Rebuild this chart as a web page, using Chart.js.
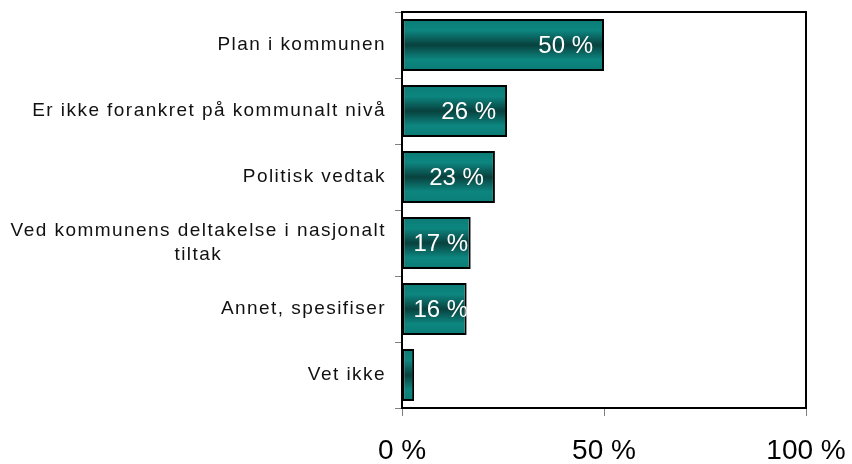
<!DOCTYPE html>
<html>
  <head>
    <meta charset="utf-8" />
    <script src="https://cdn.jsdelivr.net/npm/chart.js"></script>
    <style>
      html, body { margin: 0; padding: 0; background: #fff; }
      #wrap { width: 852px; height: 464px; }
    </style>
  </head>
  <body>
    <div id="wrap"><canvas id="barChart" width="852" height="464"></canvas></div>
    <script>
      const categories = [
        "Plan i kommunen",
        "Er ikke forankret på kommunalt nivå",
        "Politisk vedtak",
        ["Ved kommunens deltakelse i nasjonalt", "tiltak"],
        "Annet, spesifiser",
        "Vet ikke",
      ];
      const shares = [50, 26, 23, 17, 16, 3];
      const xTicks = [0, 50, 100];

      const barPct = 0.79;

      // teal gradient per bar: light at the edges, dark in the middle
      const barFill = (context) => {
        const chart = context.chart;
        const yScale = chart.scales.y;
        if (!yScale || context.dataIndex === undefined) return "#00706c";
        const center = yScale.getPixelForValue(context.dataIndex);
        const half = (yScale.height / categories.length) * barPct / 2;
        if (!isFinite(center) || !isFinite(half) || half <= 0) return "#00706c";
        const g = chart.ctx.createLinearGradient(0, center - half, 0, center + half);
        g.addColorStop(0, "#0b7b75");
        g.addColorStop(0.22, "#0d8680");
        g.addColorStop(0.5, "#08413e");
        g.addColorStop(0.78, "#0d8680");
        g.addColorStop(1, "#0b7b75");
        return g;
      };

      const framePlugin = {
        id: "frame",
        afterDatasetsDraw(chart) {
          const { ctx, chartArea: a } = chart;
          ctx.save();
          ctx.strokeStyle = "#000";
          ctx.lineWidth = 2;
          ctx.strokeRect(a.left, a.top, a.right - a.left, a.bottom - a.top);
          ctx.restore();
        },
      };

      const valueLabels = {
        id: "valueLabels",
        afterDatasetsDraw(chart) {
          const { ctx } = chart;
          const meta = chart.getDatasetMeta(0);
          ctx.save();
          ctx.font = "24px Arial, 'Liberation Sans', sans-serif";
          ctx.fillStyle = "#fff";
          ctx.textAlign = "left";
          ctx.textBaseline = "middle";
          meta.data.forEach((bar, i) => {
            const p = bar.getProps(["x", "y", "base", "height"], true);
            const text = shares[i] + " %";
            const w = ctx.measureText(text).width;
            const left = Math.max(p.x - 11 - w, p.base + 11);
            ctx.save();
            ctx.beginPath();
            ctx.rect(p.base, p.y - p.height / 2, p.x - p.base, p.height);
            ctx.clip();
            ctx.fillText(text, left, p.y + 1);
            ctx.restore();
          });
          ctx.restore();
        },
      };

      const categoryLabels = {
        id: "categoryLabels",
        afterDraw(chart) {
          const { ctx } = chart;
          const yScale = chart.scales.y;
          ctx.save();
          ctx.font = "19px Arial, 'Liberation Sans', sans-serif";
          ctx.letterSpacing = "1.45px";
          ctx.fillStyle = "#111";
          ctx.textAlign = "center";
          ctx.textBaseline = "middle";
          const rightEdge = 385;
          const lineH = 24;
          categories.forEach((label, i) => {
            const lines = Array.isArray(label) ? label : [label];
            const w = Math.max(...lines.map((l) => ctx.measureText(l).width));
            const cx = rightEdge - w / 2;
            const cy = yScale.getPixelForValue(i);
            lines.forEach((l, k) => {
              const y = cy + (k - (lines.length - 1) / 2) * lineH;
              ctx.fillText(l, cx + 1, y);
            });
          });
          ctx.restore();
        },
      };

      new Chart(document.getElementById("barChart"), {
        type: "bar",
        data: {
          labels: categories,
          datasets: [
            {
              data: shares,
              backgroundColor: barFill,
              borderColor: "#000",
              borderWidth: 2,
              borderSkipped: false,
              barPercentage: barPct,
              categoryPercentage: 1,
            },
          ],
        },
        options: {
          indexAxis: "y",
          responsive: false,
          animation: false,
          layout: { padding: { top: 12, right: 46, left: 0, bottom: 0 } },
          plugins: {
            legend: { display: false },
            tooltip: { enabled: false },
          },
          scales: {
            x: {
              min: 0,
              max: 100,
              afterBuildTicks(scale) {
                scale.ticks = xTicks.map((v) => ({ value: v }));
              },
              afterFit(scale) {
                scale.height = 56;
                scale.paddingLeft = 0;
                scale.paddingRight = 0;
              },
              border: { display: false },
              grid: {
                drawOnChartArea: false,
                drawTicks: true,
                tickLength: 8,
                color: "#808080",
                lineWidth: 1,
              },
              ticks: {
                padding: 18,
                color: "#000",
                font: { family: "Arial, 'Liberation Sans', sans-serif", size: 28 },
                maxRotation: 0,
                callback: (v) => v + " %",
              },
            },
            y: {
              afterFit(scale) {
                scale.width = 402;
              },
              border: { display: false },
              grid: {
                offset: true,
                drawOnChartArea: false,
                drawTicks: true,
                tickLength: 7,
                color: "#808080",
                lineWidth: 1,
              },
              ticks: { display: false },
            },
          },
        },
        plugins: [framePlugin, valueLabels, categoryLabels],
      });
    </script>
  </body>
</html>
